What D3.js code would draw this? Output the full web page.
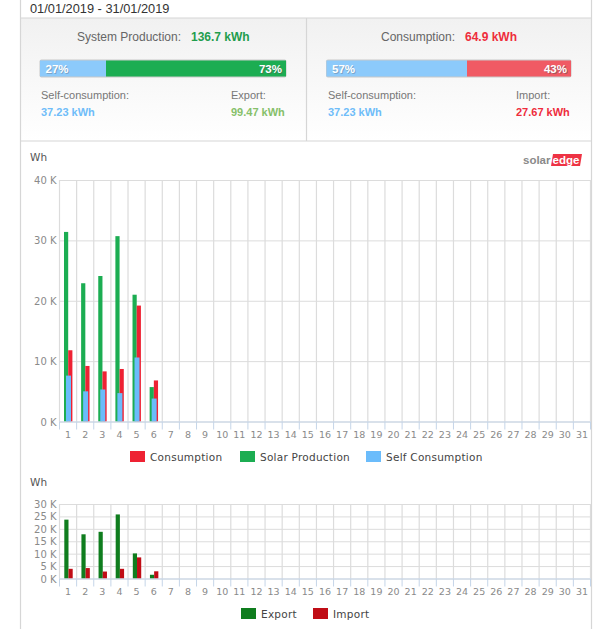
<!DOCTYPE html>
<html>
<head>
<meta charset="utf-8">
<script src="https://cdn.jsdelivr.net/npm/d3@7"></script>
<style>
html, body { margin: 0; padding: 0; background: #fff; }
svg { display: block; }
.head { font-family: "Liberation Sans", sans-serif; }
.chart text { font-family: "DejaVu Sans", sans-serif; }
</style>
</head>
<body>
<div id="chart"></div>
<script>
// values
var days = d3.range(1, 32);
var solarProduction = [31400, 22900, 24100, 30700, 21000, 5700];
var consumption = [11800, 9200, 8300, 8700, 19200, 6800];
var selfConsumption = [7600, 5000, 5300, 4700, 10600, 3800];
var exported = [23700, 17800, 18800, 25800, 10100, 1500];
var imported = [3900, 4200, 2800, 3900, 8500, 2900];
var topTicks = [0, 10000, 20000, 30000, 40000];
var bottomTicks = [0, 5000, 10000, 15000, 20000, 25000, 30000];

var GREEN = '#1cad52', RED = '#ee2233', BLUE = '#6bbcfb';
var GRID = '#dcdcdc', AXIS = '#c5d5e8';

var svg = d3.select('#chart').append('svg')
    .attr('width', 600).attr('height', 629);

var defs = svg.append('defs');
var grad = defs.append('linearGradient').attr('id', 'panelBg')
    .attr('x1', 0).attr('y1', 0).attr('x2', 0).attr('y2', 1);
grad.append('stop').attr('offset', 0).attr('stop-color', '#f1f1f1');
grad.append('stop').attr('offset', 1).attr('stop-color', '#ffffff');

function text(parent, x, y, str, size, color, anchor, weight) {
    return parent.append('text').attr('x', x).attr('y', y).text(str)
        .attr('font-size', size).attr('fill', color)
        .attr('text-anchor', anchor || 'start')
        .attr('font-weight', weight || 'normal');
}

// header with the two summary panels
var head = svg.append('g').attr('class', 'head');
head.append('rect').attr('x', 20).attr('y', 18).attr('width', 571).attr('height', 123)
    .attr('fill', 'url(#panelBg)');
text(head, 30, 13, '01/01/2019 - 31/01/2019', 12.8, '#333');

function progress(x0, x1, split, colorB, pctA, pctB) {
    head.append('rect').attr('x', x0 - 0.5).attr('y', 59.5).attr('width', x1 - x0 + 1).attr('height', 18)
        .attr('rx', 2).attr('fill', '#c8c8c8');
    head.append('rect').attr('x', x0).attr('y', 60.5).attr('width', split - x0).attr('height', 16)
        .attr('fill', '#8ccafb');
    head.append('rect').attr('x', split).attr('y', 60.5).attr('width', x1 - split).attr('height', 16)
        .attr('fill', colorB);
    // the percent labels carry a soft drop shadow
    text(head, x0 + 6.5, 74, pctA, 11.5, '#6f8ea8', 'start', 'bold').attr('opacity', 0.6);
    text(head, x1 - 3, 74, pctB, 11.5, '#555', 'end', 'bold').attr('opacity', 0.5);
    text(head, x0 + 5.5, 73, pctA, 11.5, '#fff', 'start', 'bold');
    text(head, x1 - 4, 73, pctB, 11.5, '#fff', 'end', 'bold');
}
progress(40, 286, 106, '#1cad52', '27%', '73%');
progress(326.5, 571, 467, '#f05a64', '57%', '43%');

text(head, 77, 41, 'System Production:', 12, '#666');
text(head, 191, 41, '136.7 kWh', 12, '#1f9d4d', 'start', 'bold');
text(head, 41, 99, 'Self-consumption:', 11, '#777');
text(head, 41, 116, '37.23 kWh', 11, '#6fbdf9', 'start', 'bold');
text(head, 231, 99, 'Export:', 11, '#777');
text(head, 231, 116, '99.47 kWh', 11, '#86c06a', 'start', 'bold');

text(head, 381, 41, 'Consumption:', 12, '#666');
text(head, 465, 41, '64.9 kWh', 12, '#ee2d3c', 'start', 'bold');
text(head, 328, 99, 'Self-consumption:', 11, '#777');
text(head, 328, 116, '37.23 kWh', 11, '#6fbdf9', 'start', 'bold');
text(head, 516, 99, 'Import:', 11, '#777');
text(head, 516, 116, '27.67 kWh', 11, '#ee2d3c', 'start', 'bold');

// outer frame and panel separators
var frame = svg.append('g').attr('stroke', '#d6d6d6').attr('fill', 'none');
frame.append('path').attr('d', 'M20.5,0V629M591.5,0V629M20,18H592M20,141H592M306.5,18V141').attr('stroke-width', 1.2);

// logo
var logo = svg.append('g').attr('class', 'head');
logo.append('path').attr('d', 'M553,154H582L580,166H551Z').attr('fill', '#ee3344');
text(logo, 523, 164, 'solar', 11.5, '#8a8a8a', 'start', 'bold');
text(logo, 552.5, 164, 'edge', 11.5, '#fff', 'start', 'bold');

var x = d3.scaleBand().domain(days).range([59.5, 590.5]);

function drawChart(cfg) {
    var g = svg.append('g').attr('class', 'chart');
    var y = d3.scaleLinear().domain([0, cfg.max]).range([cfg.bottom, cfg.top]);

    var yAxis = d3.axisLeft(y).tickValues(cfg.ticks).tickSize(-(x.range()[1] - x.range()[0]))
        .tickFormat(function(d) { return (d / 1000) + ' K'; });
    var ya = g.append('g').attr('transform', 'translate(59.5,0)').call(yAxis);
    ya.select('.domain').remove();
    ya.selectAll('line').attr('stroke', GRID).attr('stroke-width', 1);
    ya.selectAll('text').attr('fill', '#8a8a8a').attr('font-size', cfg.yFont).attr('x', -3).attr('dy', '0.35em');

    // vertical grid lines sit on the day edges
    var edges = days.map(function(d) { return x(d); }).concat(x.range()[1]);
    g.append('g').selectAll('line').data(edges).enter().append('line')
        .attr('x1', function(d) { return d; }).attr('x2', function(d) { return d; })
        .attr('y1', cfg.top).attr('y2', cfg.bottom)
        .attr('stroke', GRID).attr('stroke-width', 1.2);

    cfg.series.forEach(function(s) {
        g.append('g').selectAll('rect').data(s.values).enter().append('rect')
            .attr('x', function(d, i) { return x(days[i]) + s.offset; })
            .attr('width', s.width)
            .attr('y', function(d) { return y(d); })
            .attr('height', function(d) { return cfg.bottom - y(d); })
            .attr('fill', s.color);
    });

    var xAxis = d3.axisBottom(x).tickSize(0).tickPadding(10);
    var xa = g.append('g').attr('transform', 'translate(0,' + cfg.bottom + ')').call(xAxis);
    xa.select('.domain').remove();
    xa.selectAll('text').attr('fill', '#8a8a8a').attr('font-size', 9.5);
    g.append('line').attr('x1', x.range()[0]).attr('x2', x.range()[1])
        .attr('y1', cfg.bottom + 0.5).attr('y2', cfg.bottom + 0.5).attr('stroke', AXIS);
    g.append('g').selectAll('line').data(edges).enter().append('line')
        .attr('x1', function(d) { return d; }).attr('x2', function(d) { return d; })
        .attr('y1', cfg.bottom).attr('y2', cfg.bottom + 8)
        .attr('stroke', AXIS);

    text(g, 30, cfg.wh, 'Wh', 10.5, '#555');

    var lg = g.append('g').selectAll('g').data(cfg.legend).enter().append('g');
    lg.append('rect')
        .attr('x', function(d) { return d.x; }).attr('y', cfg.legendY - 6)
        .attr('width', 15).attr('height', 11).attr('fill', function(d) { return d.color; });
    lg.append('text').attr('x', function(d) { return d.x + 20; }).attr('y', cfg.legendY + 4)
        .attr('font-size', 10.5).attr('letter-spacing', 0.25).attr('fill', '#444')
        .text(function(d) { return d.name; });
}

drawChart({
    top: 180, bottom: 421.5, max: 40000, ticks: topTicks, yFont: 10, wh: 161,
    series: [
        { values: solarProduction, color: GREEN, offset: 4.5, width: 4.2 },
        { values: consumption, color: RED, offset: 8.7, width: 4.2 },
        { values: selfConsumption, color: BLUE, offset: 6.5, width: 5 }
    ],
    legendY: 457,
    legend: [
        { name: 'Consumption', color: RED, x: 130 },
        { name: 'Solar Production', color: GREEN, x: 240 },
        { name: 'Self Consumption', color: BLUE, x: 366 }
    ]
});

drawChart({
    top: 504, bottom: 578.5, max: 30000, ticks: bottomTicks, yFont: 10, wh: 486,
    series: [
        { values: exported, color: '#0f7d1e', offset: 4.8, width: 4.2 },
        { values: imported, color: '#c00d16', offset: 9, width: 4.2 }
    ],
    legendY: 614,
    legend: [
        { name: 'Export', color: '#0f7d1e', x: 241 },
        { name: 'Import', color: '#c00d16', x: 313 }
    ]
});
</script>
</body>
</html>
